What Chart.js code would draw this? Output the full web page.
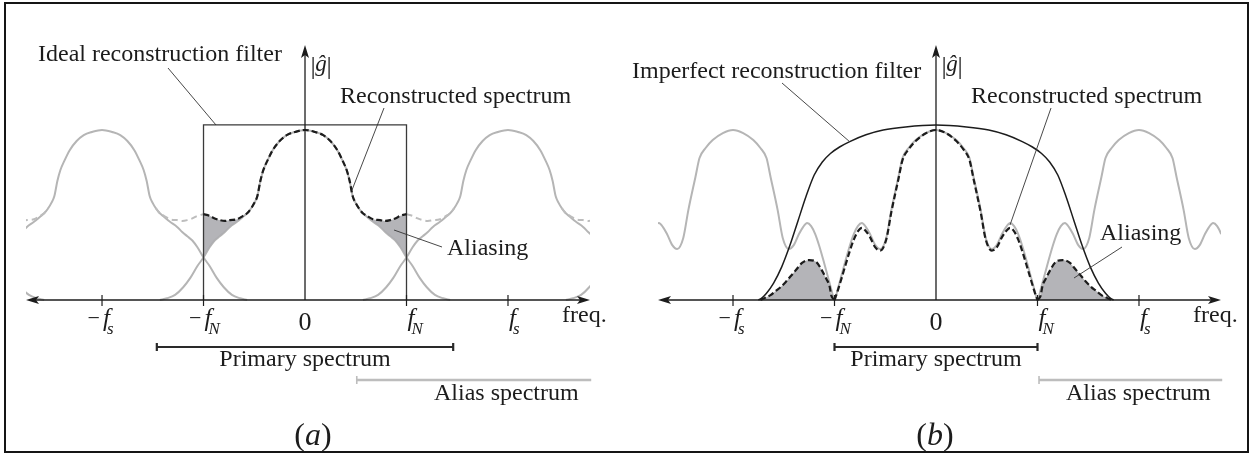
<!DOCTYPE html>
<html>
<head>
<meta charset="utf-8">
<script src="https://cdn.jsdelivr.net/npm/chart.js@4.4.0/dist/chart.umd.min.js"></script>
<style>
  body { margin: 0; background: #fff; }
  #wrap { position: relative; width: 1256px; height: 456px; overflow: hidden; }
  canvas { position: absolute; top: 0; }
  #frame { position: absolute; left: 4px; top: 2px; width: 1241px; height: 447px;
           border: 2.5px solid #151515; pointer-events: none; }
</style>
</head>
<body>
<div id="wrap">
  <canvas id="chartA" width="628" height="456" style="left:0"></canvas>
  <canvas id="chartB" width="628" height="456" style="left:628px"></canvas>
  <div id="frame"></div>
</div>
<script>
// frequency axis ticks, in units of f_N (f_s = 2 f_N)
const tickValues = [-2, -1, 0, 1, 2];
const tickNames  = ['−f', '−f', '0', 'f', 'f'];
const tickSubs   = ['s', 'N', '', 'N', 's'];

// (a) one copy of the spectrum, read from its centre outwards
// offset in f_N, height in % of the peak
const aOffsets  = [0, 0.10, 0.18, 0.25, 0.32, 0.37, 0.41, 0.44, 0.47, 0.50, 0.53, 0.57, 0.61,
                   0.67, 0.74, 0.79, 0.84, 0.89, 0.94, 1.00, 1.06, 1.13, 1.20, 1.28, 1.36, 1.43];
const aSpectrum = [100, 98.8, 97, 93.5, 88, 82, 76.5, 70, 61, 57, 54, 51, 49,
                   46, 43, 40, 37.5, 35, 31, 25, 20, 13, 7.5, 3, 1, 0];
// overlapping copies added up (same offsets, 0 .. f_N)
const aRecon    = [100, 98.8, 97, 93.5, 88, 82, 76.5, 70, 61, 57, 54, 51, 49.5,
                   47.5, 47, 46.5, 47, 48, 49.5, 50.5];
const aCopies   = [-4, -2, 0, 2, 4];
const aFilterX  = [-1, -1, 1, 1];
const aFilterY  = [0, 103, 103, 0];
const aPrimary  = [-1.46, 1.46];
const aAliasBar = [0.51, 2.82];

// (b)
const bOffsets  = [0, 0.10, 0.20, 0.27, 0.33, 0.37, 0.44, 0.49, 0.55, 0.60,
                   0.65, 0.69, 0.73, 0.77, 0.81, 0.85, 0.89, 0.93, 0.97, 1.00];
const bSpectrum = [100, 98.2, 94.1, 89.4, 83.5, 72.4, 52.9, 36.5, 30, 32.4,
                   38.8, 42.9, 45.3, 43.5, 38.8, 31.8, 23.5, 14.7, 5.9, 0];
const bRecon    = [100, 98.1, 93.5, 88.6, 82.3, 71.2, 51.7, 35.6, 29.1, 31.1,
                   37.0, 40.5, 42.4, 40.3, 35.5, 28.7, 20.9, 12.9, 5.1, 0];
const bCopies   = [-2, 0, 2];
const bFilterX  = [0, 0.30, 0.52, 0.69, 0.85, 0.95, 1.04, 1.12, 1.20, 1.28, 1.36, 1.44, 1.52, 1.60, 1.67, 1.72, 1.75];
const bFilter   = [102.9, 101.8, 100, 97.2, 93.2, 90.0, 86.2, 81.2, 73.5, 61.0, 46.5, 32.0, 19.5, 10.0, 4.0, 1.0, 0];
const bAliasX   = [1.00, 1.03, 1.05, 1.08, 1.12, 1.18, 1.25, 1.32, 1.38, 1.43, 1.48, 1.53, 1.58, 1.63, 1.68, 1.73];
const bAlias    = [0, 2.4, 8.5, 12.4, 17, 22.4, 23.5, 21.8, 17.6, 14.1, 10.6, 7.6, 5.3, 2.9, 1.4, 0];
const bPrimary  = [-1, 1];
const bAliasBar = [1.015, 2.82];

const INK = '#1c1c1c';
const GREY = '#b5b5b5';
const SHADE = 'rgba(172,172,176,0.9)';
const FONT = '"Liberation Serif", "Times New Roman", serif';
const TEXT = '24px ' + FONT;
const Y_MIN = -11.76, Y_MAX = 152.94;

function pts(xs, ys) { return xs.map((x, i) => ({x: x, y: ys[i]})); }

function mirrored(offsets, values, centre) {
  const out = [];
  for (let i = values.length - 1; i > 0; i--) out.push({x: centre - offsets[i], y: values[i]});
  for (let i = 0; i < values.length; i++) out.push({x: centre + offsets[i], y: values[i]});
  return out;
}

function flank(offsets, values, centre, side, from) {
  const out = [];
  for (let i = from; i < values.length; i++) out.push({x: centre + side * offsets[i], y: values[i]});
  return out.sort((p, q) => p.x - q.x);
}

function joinCopies(offsets, values, centres) {
  const out = [];
  centres.forEach(c => mirrored(offsets, values, c).forEach(p => {
    if (!out.length || p.x > out[out.length - 1].x + 1e-9) out.push(p);
  }));
  return out;
}

function curve(data, color, width, order, extra) {
  return Object.assign({
    data: data, borderColor: color, borderWidth: width, pointRadius: 0,
    fill: false, cubicInterpolationMode: 'monotone', order: order
  }, extra || {});
}

// ---- drawing helpers for the annotations ----
function seg(ctx, x1, y1, x2, y2) {
  ctx.beginPath(); ctx.moveTo(x1, y1); ctx.lineTo(x2, y2); ctx.stroke();
}
function arrowHead(ctx, x, y, dx, dy) {
  const L = 13, W = 4, N = 3, px = -dy, py = dx;
  ctx.beginPath();
  ctx.moveTo(x, y);
  ctx.lineTo(x - dx * L + px * W, y - dy * L + py * W);
  ctx.lineTo(x - dx * (L - N), y - dy * (L - N));
  ctx.lineTo(x - dx * L - px * W, y - dy * L - py * W);
  ctx.closePath(); ctx.fill();
}
function put(ctx, str, x, y, font, align) {
  ctx.font = font;
  ctx.textAlign = align || 'left';
  ctx.textBaseline = 'alphabetic';
  ctx.fillText(str, x, y);
}
function mathLabel(ctx, name, sub, x, y0) {
  if (name === '0') { put(ctx, '0', x, y0 + 30, '26px ' + FONT, 'center'); return; }
  if (name[0] === '−') put(ctx, '−', x - 2, y0 + 25, '22px ' + FONT, 'right');
  put(ctx, 'f', x + 1, y0 + 26, 'italic 25px ' + FONT, 'left');
  put(ctx, sub, x + 5, y0 + 34, 'italic 17px ' + FONT, 'left');
}
function panelLabel(ctx, letter, cx, y) {
  const up = '32px ' + FONT, it = 'italic 32px ' + FONT;
  ctx.font = up; const wp = ctx.measureText('(').width;
  ctx.font = it; const wl = ctx.measureText(letter).width;
  let x = cx - (2 * wp + wl) / 2;
  put(ctx, '(', x, y, up); x += wp;
  put(ctx, letter, x, y, it); x += wl;
  put(ctx, ')', x, y, up);
}
function callout(ctx, c) {
  put(ctx, c.text, c.x, c.y, TEXT, 'left');
  ctx.lineWidth = 0.9; ctx.strokeStyle = '#333';
  seg(ctx, c.line[0], c.line[1], c.line[2], c.line[3]);
}

function decor(cfg) {
  return {
    id: 'decor' + cfg.letter,
    afterDraw(chart) {
      const ctx = chart.ctx, ca = chart.chartArea;
      const X = v => chart.scales.x.getPixelForValue(v);
      const y0 = chart.scales.y.getPixelForValue(0), x0 = X(0);
      ctx.save();
      ctx.strokeStyle = INK; ctx.fillStyle = INK; ctx.lineWidth = 1.3;
      // axes
      seg(ctx, ca.left + 8, y0, ca.right - 8, y0);
      arrowHead(ctx, ca.left, y0, -1, 0);
      arrowHead(ctx, ca.right, y0, 1, 0);
      seg(ctx, x0, y0, x0, 54);
      arrowHead(ctx, x0, 45, 0, -1);
      tickValues.forEach((v, i) => {
        const x = X(v);
        ctx.lineWidth = 1.2;
        if (v !== 0) seg(ctx, x, y0 - 5, x, y0 + 6);
        mathLabel(ctx, tickNames[i], tickSubs[i], x, y0);
      });
      put(ctx, 'freq.', cfg.freqX, y0 + 22, TEXT, 'left');
      // |ĝ|
      put(ctx, '|', x0 + 8, 74, '26px ' + FONT, 'center');
      put(ctx, '|', x0 + 24, 74, '26px ' + FONT, 'center');
      put(ctx, 'ĝ', x0 + 16, 71, 'italic 23px ' + FONT, 'center');
      // callouts
      cfg.callouts.forEach(c => { ctx.fillStyle = INK; callout(ctx, c); });
      // primary / alias spectrum bars
      ctx.fillStyle = INK;
      ctx.strokeStyle = '#2a2a2a'; ctx.lineWidth = 2.2;
      const p0 = X(cfg.primary[0]), p1 = X(cfg.primary[1]);
      seg(ctx, p0, 347, p1, 347);
      seg(ctx, p0, 343, p0, 351);
      seg(ctx, p1, 343, p1, 351);
      put(ctx, 'Primary spectrum', x0, 366, TEXT, 'center');
      ctx.strokeStyle = '#bdbdbd'; ctx.lineWidth = 2.4;
      const a0 = X(cfg.aliasBar[0]), a1 = X(cfg.aliasBar[1]);
      seg(ctx, a0, 380, a1, 380);
      ctx.lineWidth = 1.6;
      seg(ctx, a0, 376, a0, 384);
      put(ctx, 'Alias spectrum', cfg.aliasTextX, 400, TEXT, 'left');
      panelLabel(ctx, cfg.letter, cfg.labelX, 445);
      ctx.restore();
    }
  };
}

function makeChart(id, datasets, xMin, xMax, pad, cfg) {
  return new Chart(document.getElementById(id), {
    type: 'line',
    data: {datasets: datasets},
    options: {
      responsive: false,
      animation: false,
      events: [],
      layout: {padding: pad},
      scales: {
        x: {type: 'linear', min: xMin, max: xMax, display: false},
        y: {min: Y_MIN, max: Y_MAX, display: false}
      },
      plugins: {legend: {display: false}, tooltip: {enabled: false}},
      elements: {point: {radius: 0}}
    },
    plugins: [decor(cfg)]
  });
}

// ---- panel (a) ----
const aSets = [];
aCopies.forEach(c => aSets.push(curve(mirrored(aOffsets, aSpectrum, c), GREY, 2, 50)));
[[-2, -1], [-2, 1], [2, -1], [2, 1]].forEach(([c, s]) =>
  aSets.push(curve(flank(aOffsets, aRecon, c, s, 10), '#bdbdbd', 2, 40, {borderDash: [6, 4]})));
[-1, 1].forEach(s => {
  aSets.push(curve(flank(aOffsets, aRecon, 0, s, 10), 'rgba(0,0,0,0)', 0, 30,
                   {fill: '+1', backgroundColor: SHADE}));
  aSets.push(curve(flank(aOffsets, aSpectrum.slice(0, aRecon.length), 0, s, 10), 'rgba(0,0,0,0)', 0, 30));
});
aSets.push(curve(pts(aFilterX, aFilterY), '#3a3a3a', 1.3, 20, {cubicInterpolationMode: 'default', tension: 0}));
aSets.push(curve(mirrored(aOffsets, aRecon, 0), INK, 2.2, 10, {borderDash: [6, 3]}));

makeChart('chartA', aSets, -2.749, 2.808, {left: 26, right: 38, top: 40, bottom: 136}, {
  letter: 'a', freqX: 562, primary: aPrimary, aliasBar: aAliasBar, aliasTextX: 434, labelX: 313,
  callouts: [
    {text: 'Ideal reconstruction filter', x: 38, y: 61, line: [168, 68, 216, 125]},
    {text: 'Reconstructed spectrum', x: 340, y: 103, line: [384, 108, 352, 190]},
    {text: 'Aliasing', x: 447, y: 255, line: [442, 247, 394, 230]}
  ]
});

// ---- panel (b) ----
const bSets = [
  curve(joinCopies(bOffsets, bSpectrum, bCopies), GREY, 2, 50),
  curve(mirrored(bFilterX, bFilter, 0), INK, 1.5, 20),
  curve(mirrored(bOffsets, bRecon, 0), INK, 2.2, 10, {borderDash: [6, 3]}),
  curve(pts(bAliasX, bAlias), INK, 2.2, 10, {borderDash: [6, 3], fill: 'origin', backgroundColor: SHADE}),
  curve(pts(bAliasX.map(x => -x).reverse(), bAlias.slice().reverse()), INK, 2.2, 10,
        {borderDash: [6, 3], fill: 'origin', backgroundColor: SHADE})
];

makeChart('chartB', bSets, -2.739, 2.808, {left: 30, right: 35, top: 40, bottom: 136}, {
  letter: 'b', freqX: 565, primary: bPrimary, aliasBar: bAliasBar, aliasTextX: 438, labelX: 307,
  callouts: [
    {text: 'Imperfect reconstruction filter', x: 4, y: 78, line: [154, 83, 222, 142]},
    {text: 'Reconstructed spectrum', x: 343, y: 103, line: [423, 108, 382, 225]},
    {text: 'Aliasing', x: 472, y: 240, line: [494, 247, 446, 278]}
  ]
});
</script>
</body>
</html>
